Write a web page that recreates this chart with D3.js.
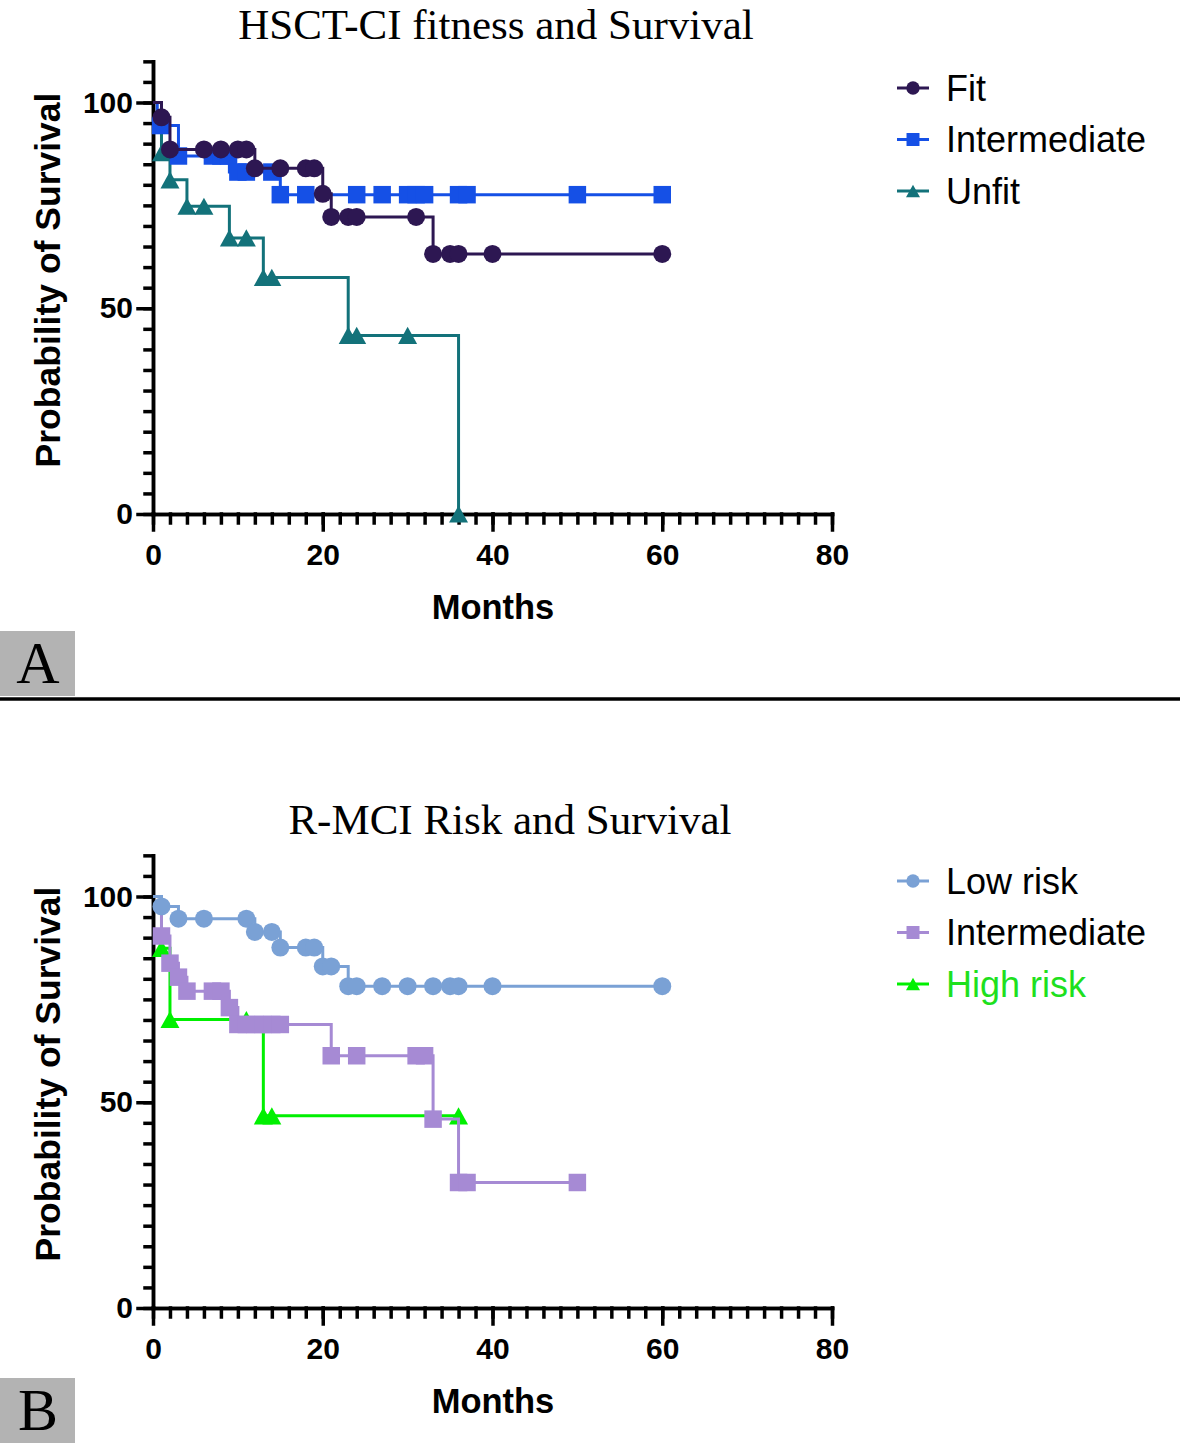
<!DOCTYPE html>
<html><head><meta charset="utf-8">
<script src="https://cdn.jsdelivr.net/npm/d3@7"></script>
<style>body{margin:0;background:#fff} svg{display:block}</style>
</head><body>
<svg id="chart" width="1180" height="1446"></svg>
<script>
// ---------- data ----------
const xTickLabels = [0, 20, 40, 60, 80];
const yTickLabels = [0, 50, 100];
const xLabel = "Months";
const yLabel = "Probability of Survival";
const titleA = "HSCT-CI fitness and Survival";
const titleB = "R-MCI Risk and Survival";
const namesA = ["Fit", "Intermediate", "Unfit"];
const namesB = ["Low risk", "Intermediate", "High risk"];

// Panel A : Fit
const fitTimes = [0, 1, 2, 12, 20, 21, 33];
const fitSurv  = [100, 96.4, 88.6, 84.0, 77.8, 72.2, 63.2];
const fitMarks = [1, 2, 6, 8, 10, 11, 12, 15, 18, 19, 20, 21, 23, 24, 31, 33, 35, 36, 40, 60];
const fitEnd = 60;
// Panel A : Intermediate
const intATimes = [0, 0.5, 3, 9, 15];
const intASurv  = [100, 94.4, 87.0, 83.1, 77.6];
const intAMarks = [0.9, 3, 7, 8, 8.9, 10, 11, 14, 15, 18, 24, 27, 30, 31, 32, 36, 37, 50, 60];
const intAEnd = 60;
// Panel A : Unfit
const unfitTimes = [0, 1, 2, 4, 9, 13, 23, 36];
const unfitSurv  = [100, 87.8, 81.2, 74.8, 67.1, 57.5, 43.4, 0];
const unfitMarks = [1, 2, 4, 6, 9, 11, 13, 14, 23, 24, 30, 36];
const unfitEnd = 36;

// Panel B : Low risk
const lowTimes = [0, 1, 3, 12, 15, 20, 23];
const lowSurv  = [100, 97.6, 94.6, 91.4, 87.6, 83.0, 78.2];
const lowMarks = [1, 3, 6, 11, 12, 14, 15, 18, 19, 20, 21, 23, 24, 27, 30, 33, 35, 36, 40, 60];
const lowEnd = 60;
// Panel B : Intermediate
const intBTimes = [0, 1, 2, 3, 4, 9, 10, 21, 33, 36];
const intBSurv  = [100, 90.4, 83.8, 80.4, 77.0, 73.0, 68.9, 61.3, 45.9, 30.5];
const intBMarks = [1, 2, 3, 4, 7, 8, 9, 10, 11, 12, 13, 14, 15, 21, 24, 31, 32, 33, 36, 37, 50];
const intBEnd = 50;
// Panel B : High risk
const highTimes = [0, 1, 2, 13];
const highSurv  = [100, 87.4, 70.1, 46.7];
const highMarks = [1, 2, 11, 13, 14, 36];
const highEnd = 36;

// ---------- drawing ----------
const svg = d3.select("#chart");
const sansFont = "'Liberation Sans', Arial, sans-serif";
const serifFont = "'Liberation Serif', 'Times New Roman', serif";

const triangleSym = {
  draw(ctx, size) {
    const s = Math.sqrt(size);
    const h = s * 0.9;
    ctx.moveTo(0, -h / 2);
    ctx.lineTo(s / 2, h / 2);
    ctx.lineTo(-s / 2, h / 2);
    ctx.closePath();
  }
};
const squareSym = {
  draw(ctx, size) { const s = Math.sqrt(size) / 2; ctx.rect(-s, -s, 2 * s, 2 * s); }
};
const circleSym = {
  draw(ctx, size) { const r = Math.sqrt(size) / 2; ctx.moveTo(r, 0); ctx.arc(0, 0, r, 0, 2 * Math.PI); }
};

function survAt(times, surv, t) {
  let v = surv[0];
  for (let i = 0; i < times.length; i++) if (times[i] <= t) v = surv[i];
  return v;
}

function drawPanel(p) {
  const g = svg.append("g");
  const x = d3.scaleLinear().domain([0, 80]).range([153, 832]);
  const y = d3.scaleLinear().domain([0, 110]).range([p.y0, p.y0 - 110 * 4.115]);

  // title
  g.append("text").attr("x", p.titleX).attr("y", p.titleY)
    .attr("text-anchor", "middle").style("font-family", serifFont).style("font-size", "43px")
    .text(p.title);

  // axes
  const styleAxis = sel => {
    sel.selectAll("path, line").attr("stroke", "#000").attr("stroke-width", 3.5).attr("stroke-linecap", "square");
    sel.selectAll("text").style("font-family", sansFont).style("font-size", "30px")
      .style("font-weight", "bold").attr("fill", "#000");
  };
  g.append("g").attr("transform", `translate(0,${p.y0})`)
    .call(d3.axisBottom(x).tickValues(d3.range(0, 81, 2)).tickSize(9).tickSizeOuter(0).tickFormat(""))
    .call(styleAxis);
  g.append("g").attr("transform", `translate(0,${p.y0})`)
    .call(d3.axisBottom(x).tickValues(xTickLabels).tickSize(16).tickSizeOuter(0).tickPadding(14))
    .call(styleAxis);
  g.append("g").attr("transform", "translate(153,0)")
    .call(d3.axisLeft(y).tickValues(d3.range(0, 111, 5)).tickSize(8).tickSizeOuter(0).tickFormat(""))
    .call(styleAxis);
  g.append("g").attr("transform", "translate(153,0)")
    .call(d3.axisLeft(y).tickValues(yTickLabels).tickSize(15).tickSizeOuter(0).tickPadding(5))
    .call(styleAxis);

  // axis labels
  g.append("text").attr("x", 493).attr("y", p.y0 + 105).attr("text-anchor", "middle")
    .style("font-family", sansFont).style("font-size", "34.5px").style("font-weight", "bold").text(xLabel);
  g.append("text").attr("transform", `translate(60,${p.y0 - 234}) rotate(-90)`).attr("text-anchor", "middle")
    .style("font-family", sansFont).style("font-size", "35.5px").style("font-weight", "bold").text(yLabel);

  // curves (drawn in reverse so first series is on top)
  const line = d3.line().x(d => x(d[0])).y(d => y(d[1])).curve(d3.curveStepAfter);
  p.series.slice().reverse().forEach(s => {
    const pts = s.times.map((t, i) => [t, s.surv[i]]);
    pts.push([s.end, s.surv[s.surv.length - 1]]);
    g.append("path").datum(pts).attr("d", line).attr("fill", "none")
      .attr("stroke", s.color).attr("stroke-width", 3);
    const sym = d3.symbol().type(s.symbol).size(s.size);
    g.append("g").selectAll("path").data(s.marks).join("path")
      .attr("transform", t => `translate(${x(t)},${y(survAt(s.times, s.surv, t))})`)
      .attr("d", sym).attr("fill", s.color);
  });

  // legend
  p.series.forEach((s, i) => {
    const cy = p.legendY + i * 51.5;
    g.append("line").attr("x1", 897).attr("x2", 929).attr("y1", cy).attr("y2", cy)
      .attr("stroke", s.color).attr("stroke-width", 3);
    g.append("path").attr("transform", `translate(913,${cy})`)
      .attr("d", d3.symbol().type(s.symbol).size(s.size * 0.55)).attr("fill", s.color);
    g.append("text").attr("x", 946).attr("y", cy + 12.5)
      .style("font-family", sansFont).style("font-size", "36px")
      .attr("fill", s.textColor || "#000").text(s.name);
  });

  // panel letter
  g.append("rect").attr("x", 0).attr("y", p.letterY).attr("width", 75).attr("height", 65).attr("fill", "#b3b3b3");
  g.append("text").attr("x", 38).attr("y", p.letterY + 52).attr("text-anchor", "middle")
    .style("font-family", serifFont).style("font-size", "60px").text(p.letter);
}

drawPanel({
  y0: 514, title: titleA, titleX: 496, titleY: 39, legendY: 88, letter: "A", letterY: 631,
  series: [
    { name: namesA[0], times: fitTimes, surv: fitSurv, marks: fitMarks, end: fitEnd, color: "#2d1752", symbol: circleSym, size: 324 },
    { name: namesA[1], times: intATimes, surv: intASurv, marks: intAMarks, end: intAEnd, color: "#1550e6", symbol: squareSym, size: 306 },
    { name: namesA[2], times: unfitTimes, surv: unfitSurv, marks: unfitMarks, end: unfitEnd, color: "#13727a", symbol: triangleSym, size: 361 }
  ]
});
drawPanel({
  y0: 1308, title: titleB, titleX: 510, titleY: 834, legendY: 881, letter: "B", letterY: 1378,
  series: [
    { name: namesB[0], times: lowTimes, surv: lowSurv, marks: lowMarks, end: lowEnd, color: "#7aa1d5", symbol: circleSym, size: 324 },
    { name: namesB[1], times: intBTimes, surv: intBSurv, marks: intBMarks, end: intBEnd, color: "#a68ad4", symbol: squareSym, size: 306 },
    { name: namesB[2], times: highTimes, surv: highSurv, marks: highMarks, end: highEnd, color: "#00f000", symbol: triangleSym, size: 361, textColor: "#1ee01e" }
  ]
});

// separator
svg.append("line").attr("x1", 0).attr("x2", 1180).attr("y1", 699).attr("y2", 699)
  .attr("stroke", "#000").attr("stroke-width", 3.5);
</script>
</body></html>
